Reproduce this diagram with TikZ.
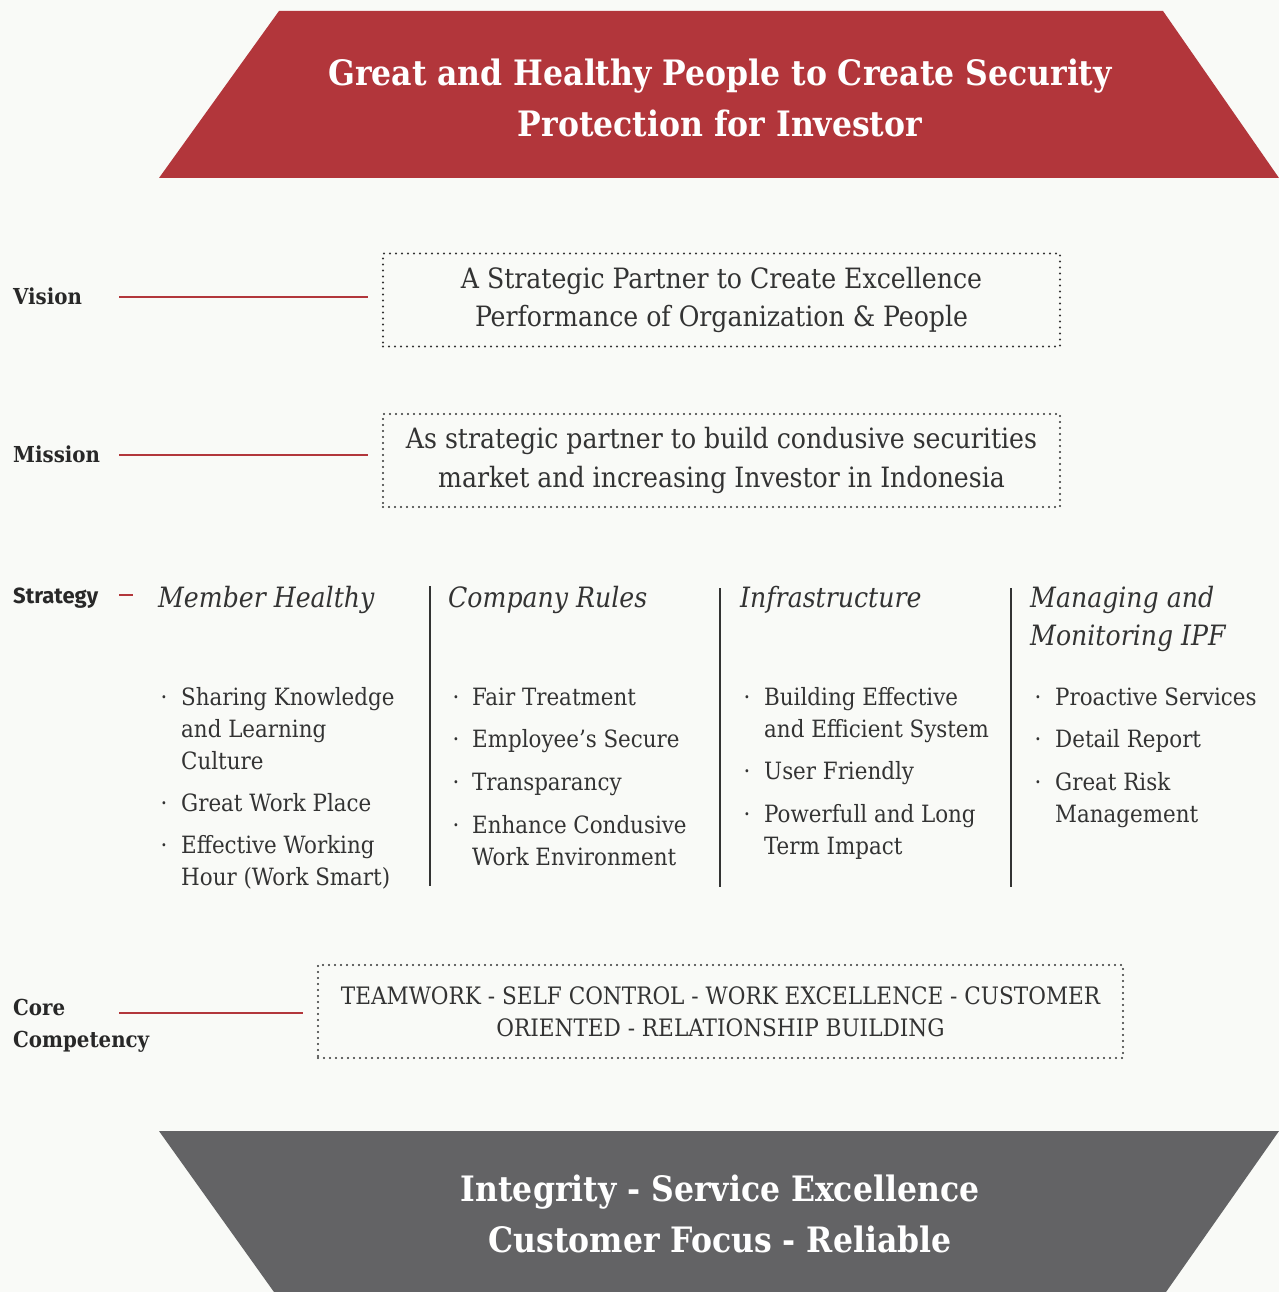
\documentclass[tikz,border=0pt]{standalone}
\usepackage{fontspec}
\setmainfont{DejaVu Serif Condensed}
\newfontfamily\stratfam{Fira Sans}
\definecolor{bgc}{RGB}{249,250,247}
\definecolor{redc}{RGB}{178,54,59}
\definecolor{greyc}{RGB}{99,99,101}
\definecolor{txt}{RGB}{51,51,51}
\definecolor{labc}{RGB}{40,40,40}
\newcommand{\titlefont}{\bfseries\fontsize{35}{51}\selectfont}
\newcommand{\boxfont}{\fontsize{28}{38.5}\selectfont}
\newcommand{\corefont}{\fontsize{24}{32}\selectfont}
\newcommand{\headfont}{\itshape\fontsize{28}{38}\selectfont}
\newcommand{\itemfont}{\fontsize{23.8}{32}\selectfont}
\newcommand{\labfont}{\bfseries\fontsize{22}{32}\selectfont}
\newcommand{\stratfont}{\stratfam\bfseries\fontsize{22}{32}\selectfont}
\tikzset{
  redline/.style={draw=redc, line width=2.5pt},
  dotbox/.style={draw=txt, line width=2.2pt, dash pattern=on 0pt off 6pt, line cap=round, inner sep=0pt, align=center, text=txt},
  lab/.style={font=\labfont, text=labc, anchor=base west, inner sep=0pt, align=left},
  head/.style={font=\headfont, text=txt, anchor=base west, inner sep=0pt, align=left},
  item/.style={font=\itemfont, text=txt, anchor=base west, inner sep=0pt, align=left},
  bul/.style={font=\itemfont, text=txt, anchor=base, inner sep=0pt},
  divider/.style={draw=txt, line width=1.2pt},
  bandtext/.style={font=\titlefont, text=white, align=center, inner sep=0pt},
}
\begin{document}
\begin{tikzpicture}[x=1pt,y=-1pt]
\fill[bgc] (0,0) rectangle (1279,1292);
% top band
\fill[redc] (279,11) -- (1163,11) -- (1279,178) -- (159,178) -- cycle;
\node[bandtext] (title) at (720,98) {Great and Healthy People to Create Security\\Protection for Investor};
% vision
\node[lab] (vlab) at (13,304) {Vision};
\node[dotbox, minimum width=677pt, minimum height=93pt, font=\boxfont] (vbox) at (721.5,300) {A Strategic Partner to Create Excellence\\Performance of Organization \& People};
\coordinate (vstart) at (119,297);
\draw[redline] (vstart) -- ([xshift=-14pt]vstart -| vbox.west);
% mission
\node[lab] (mlab) at (13,462) {Mission};
\node[dotbox, minimum width=677pt, minimum height=93pt, font=\boxfont] (mbox) at (721.5,460.5) {As strategic partner to build condusive securities\\market and increasing Investor in Indonesia};
\coordinate (mstart) at (119,455);
\draw[redline] (mstart) -- ([xshift=-14pt]mstart -| mbox.west);
% strategy
\node[lab, font=\stratfont] (slab) at (13,603) {Strategy};
\coordinate (sstart) at (119,595);
\coordinate (send) at (133,595);
\draw[redline] (sstart) -- (send);
% column headers (base = last line)
\node[head] (h1) at (158,607) {Member Healthy};
\node[head] (h2) at (448,607) {Company Rules};
\node[head] (h3) at (740,607) {Infrastructure};
\node[head] (h4) at (1030,645) {Managing and\\Monitoring IPF};
% dividers
\coordinate (d1t) at (430,586); \coordinate (d1b) at (430,886);
\coordinate (d2t) at (720,588); \coordinate (d2b) at (720,887);
\coordinate (d3t) at (1011,588); \coordinate (d3b) at (1011,887);
\draw[divider] (d1t) -- (d1b);
\draw[divider] (d2t) -- (d2b);
\draw[divider] (d3t) -- (d3b);
% column 1
\node[bul] (b11) at (164,705) {·};
\node[item] (i11) at (181,769) {Sharing Knowledge\\and Learning\\Culture};
\node[bul] (b12) at (164,811) {·};
\node[item] (i12) at (181,811) {Great Work Place};
\node[bul] (b13) at (164,853) {·};
\node[item] (i13) at (181,885) {Effective Working\\Hour (Work Smart)};
% column 2
\node[bul] (b21) at (456,705) {·};
\node[item] (i21) at (472,705) {Fair Treatment};
\node[bul] (b22) at (456,747) {·};
\node[item] (i22) at (472,747) {Employee’s Secure};
\node[bul] (b23) at (456,790) {·};
\node[item] (i23) at (472,790) {Transparancy};
\node[bul] (b24) at (456,833) {·};
\node[item] (i24) at (472,865) {Enhance Condusive\\Work Environment};
% column 3
\node[bul] (b31) at (747,705) {·};
\node[item] (i31) at (764,737) {Building Effective\\and Efficient System};
\node[bul] (b32) at (747,779) {·};
\node[item] (i32) at (764,779) {User Friendly};
\node[bul] (b33) at (747,822) {·};
\node[item] (i33) at (764,854) {Powerfull and Long\\Term Impact};
% column 4
\node[bul] (b41) at (1038,705) {·};
\node[item] (i41) at (1055,705) {Proactive Services};
\node[bul] (b42) at (1038,747) {·};
\node[item] (i42) at (1055,747) {Detail Report};
\node[bul] (b43) at (1038,790) {·};
\node[item] (i43) at (1055,822) {Great Risk\\Management};
% core competency
\node[lab] (clab) at (13,1047) {Core\\Competency};
\node[dotbox, minimum width=805pt, minimum height=93pt, font=\corefont] (cbox) at (720.5,1011.5) {TEAMWORK - SELF CONTROL - WORK EXCELLENCE - CUSTOMER\\ORIENTED - RELATIONSHIP BUILDING};
\coordinate (cstart) at (119,1013);
\draw[redline] (cstart) -- ([xshift=-14pt]cstart -| cbox.west);
% bottom band
\fill[greyc] (159,1131) -- (1279,1131) -- (1166,1292) -- (274,1292) -- cycle;
\node[bandtext] (values) at (720,1214) {Integrity - Service Excellence\\Customer Focus - Reliable};
\end{tikzpicture}
\end{document}
